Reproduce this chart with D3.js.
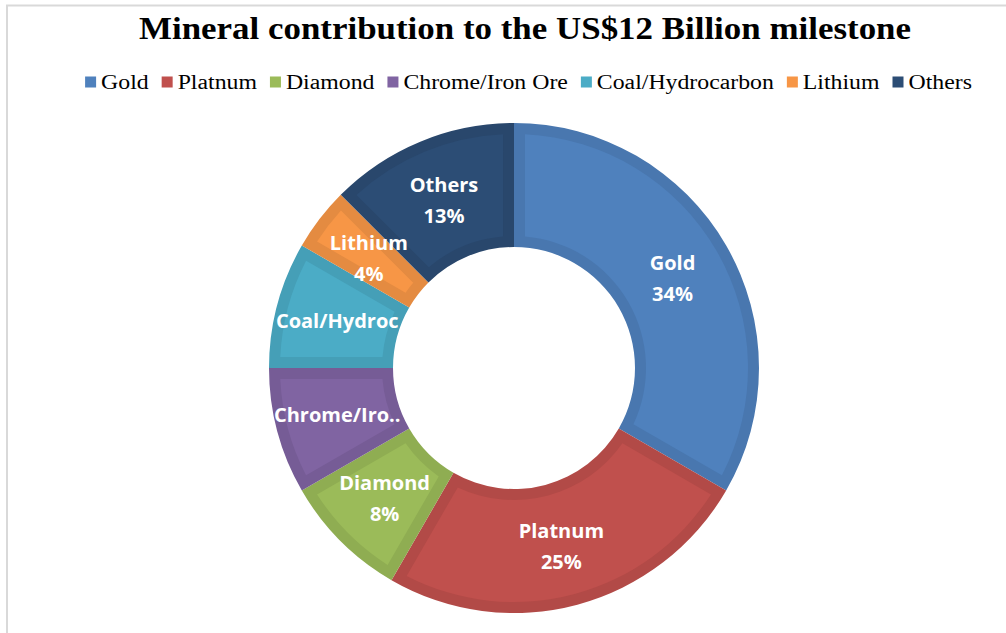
<!DOCTYPE html>
<html lang="en">
<head>
    <meta charset="UTF-8">
    <title>Mineral contribution</title>
    <style>
        body { margin: 0; background: #fff; }
        #chart { width: 1006px; height: 633px; }
    </style>
</head>
<body>
    <div id="chart"></div>
    <script src="https://d3js.org/d3.v7.min.js"></script>
    <script>
        // values in US$ billion, shown labels as Excel printed them
        const minerals = ["Gold", "Platnum", "Diamond", "Chrome/Iron Ore", "Coal/Hydrocarbon", "Lithium", "Others"];
        const values = [4, 3, 1, 1, 1, 0.5, 1.5];
        const shownNames = ["Gold", "Platnum", "Diamond", "Chrome/Iro..", "Coal/Hydroc", "Lithium", "Others"];
        const shownPct = ["34%", "25%", "8%", "", "", "4%", "13%"];
        const colors = ["#4F81BD", "#C0504D", "#9BBB59", "#8064A2", "#4BACC6", "#F79646", "#2C4D75"];

        const W = 1006, H = 633;
        const svg = d3.select("#chart").append("svg")
            .attr("width", W)
            .attr("height", H);

        // chart frame (only top/left visible in the crop)
        svg.append("rect")
            .attr("x", 7).attr("y", 5.5)
            .attr("width", W + 20).attr("height", H + 20)
            .attr("fill", "#fff")
            .attr("stroke", "#d9d9d9")
            .attr("stroke-width", 2);

        // title
        svg.append("text")
            .attr("x", 525).attr("y", 39)
            .attr("text-anchor", "middle")
            .attr("font-family", "'Liberation Serif', 'Times New Roman', serif")
            .attr("font-weight", "bold")
            .attr("font-size", 31)
            .attr("textLength", 772)
            .attr("lengthAdjust", "spacingAndGlyphs")
            .attr("fill", "#000")
            .text("Mineral contribution to the US$12 Billion milestone");

        // legend
        const legend = svg.append("g");
        const stretch = 1.16, box = 11, pad = 5, gap = 13;
        let lx = 0;
        minerals.forEach((m, i) => {
            const g = legend.append("g");
            g.append("rect")
                .attr("x", lx).attr("y", 76.5)
                .attr("width", box).attr("height", box)
                .attr("fill", colors[i]);
            const t = g.append("text")
                .attr("x", lx + box + pad).attr("y", 89)
                .attr("font-family", "'Liberation Serif', 'Times New Roman', serif")
                .attr("font-size", 20.5)
                .attr("fill", "#000")
                .text(m);
            const w = t.node().getComputedTextLength() * stretch;
            t.attr("textLength", w).attr("lengthAdjust", "spacingAndGlyphs");
            lx += box + pad + w + gap;
        });
        const legendW = lx - gap;
        legend.attr("transform", `translate(${528.5 - legendW / 2},0)`);

        // donut
        const cx = 514, cy = 368, rOut = 245, rIn = 121, inset = 11;
        const pie = d3.pie().sort(null).value(d => d);
        const arcs = pie(values);

        const outer = d3.arc().innerRadius(rIn).outerRadius(rOut);
        const inner = d3.arc()
            .innerRadius(rIn + inset)
            .outerRadius(rOut - inset)
            .padRadius(rOut)
            .padAngle(2 * inset / rOut);
        const labelArc = d3.arc().innerRadius(rIn).outerRadius(rOut);

        const donut = svg.append("g").attr("transform", `translate(${cx},${cy})`);

        const slice = donut.selectAll("g.slice")
            .data(arcs)
            .enter().append("g")
            .attr("class", "slice");

        slice.append("path")
            .attr("d", outer)
            .attr("fill", (d, i) => d3.color(colors[i]).darker(0.22));

        slice.append("path")
            .attr("d", inner)
            .attr("fill", (d, i) => colors[i]);

        // data labels
        const lbl = donut.selectAll("text.lbl")
            .data(arcs)
            .enter().append("text")
            .attr("class", "lbl")
            .attr("transform", d => `translate(${labelArc.centroid(d)})`)
            .attr("text-anchor", "middle")
            .attr("font-family", "'Open Sans', 'Noto Sans', sans-serif")
            .attr("font-weight", "bold")
            .attr("font-size", 20)
            .attr("fill", "#fff");

        lbl.each(function(d, i) {
            const t = d3.select(this);
            if (shownPct[i]) {
                t.append("tspan").attr("x", 0).attr("y", -7).text(shownNames[i]);
                t.append("tspan").attr("x", 0).attr("y", 24).text(shownPct[i]);
            } else {
                t.append("tspan").attr("x", 0).attr("y", 7).text(shownNames[i]);
            }
        });
    </script>
</body>
</html>
